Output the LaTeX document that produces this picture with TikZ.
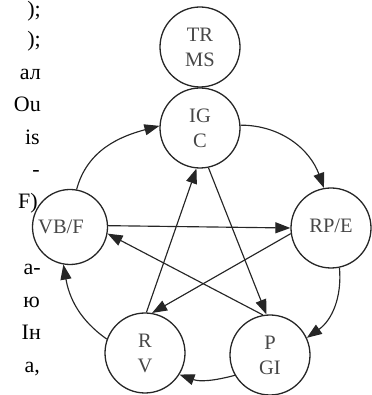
\documentclass[tikz,border=0pt]{standalone}
\usepackage{fontspec}
\setmainfont{Liberation Serif}
\usetikzlibrary{arrows.meta}
\begin{document}
\begin{tikzpicture}[x=1pt,y=1pt,
  stage/.style={circle,draw=black!85,line width=1.3pt,minimum size=80pt,
    inner sep=0pt,font=\fontsize{20.5}{25}\selectfont,text=black!72,align=center},
  link/.style={draw=black!85,line width=1.15pt,
    -{Triangle[length=15pt,width=11pt]}},
  margin/.style={anchor=base east,inner sep=0pt,
    font=\fontsize{22}{26}\selectfont}]
\useasboundingbox (0,0) rectangle (371,395);

% line ends of the neighbouring text column
\node[margin] (m1)  at (41,378.5) {);};
\node[margin] (m2)  at (41,348.4) {);};
\node[margin] (m3)  at (41,315.8) {ал};
\node[margin] (m4)  at (41,283.2) {Ou};
\node[margin] (m5)  at (40,250.6) {is};
\node[margin] (m6)  at (40,218)   {-};
\node[margin] (m7)  at (38,186.5) {F)};
\node[margin] (m8)  at (41,120.2) {а-};
\node[margin] (m9)  at (40,87.6)  {ю};
\node[margin] (m10) at (41,55)    {Ін};
\node[margin] (m11) at (40,22.4)  {а,};

% the stages
\node[stage] (trms) at (200,348) {TR\\MS};
\node[stage] (igc)  at (200,267) {IG\\C};
\node[stage] (rpe)  at (331,167) {\raisebox{5pt}{RP/E}};
\node[stage] (pgi)  at (270,40)  {P\\GI};
\node[stage] (rv)   at (145,42)  {R\\V};
\node[stage,minimum size=75pt] (vbf) at (70,168) {\kern-9pt VB/F\kern9pt};

% outer cycle
\draw[link] (igc.4)    to[out=0,in=110]    (rpe.100);
\draw[link] (rpe.-78)  to[out=-85,in=35]   (pgi.25);
\draw[link] (pgi.-150) to[out=-165,in=-20] (rv.-32);
\draw[link] (rv.160)   to[out=145,in=-80]  (vbf.-100);
\draw[link] (vbf.80)   to[out=75,in=195]   (igc.177);

% inner star
\draw[link] (rv.88)   -- (igc.-95);
\draw[link] (igc.-78) -- (pgi.95);
\draw[link] (pgi.100) -- (vbf.-10);
\draw[link] (vbf.2)   -- (rpe.180);
\draw[link] (rpe.188) -- (rv.80);
\end{tikzpicture}
\end{document}
